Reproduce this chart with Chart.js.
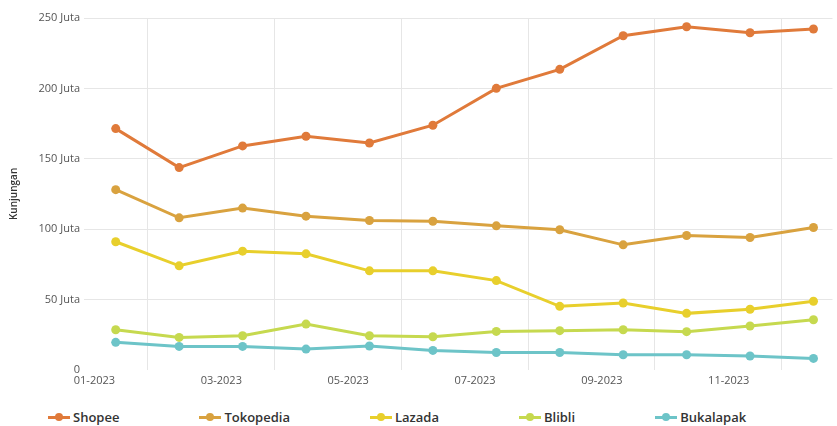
<!DOCTYPE html>
<html>
<head>
<meta charset="utf-8">
<script src="https://cdn.jsdelivr.net/npm/chart.js@4.4.1/dist/chart.umd.min.js"></script>
<style>
  html, body { margin: 0; padding: 0; background: #fff; }
  #wrap { position: relative; width: 837px; height: 426px; overflow: hidden; }
  #chart-box { width: 837px; height: 400px; }
  #legend {
    position: absolute; left: 48px; top: 408px;
    display: flex; gap: 80px;
    font: 600 13px "Open Sans", sans-serif; color: #333; line-height: 18px;
  }
  .item { display: flex; align-items: center; }
  .icon { position: relative; width: 22px; height: 3px; margin-right: 3px; }
  .icon span { position: absolute; left: 7px; top: -2.5px; width: 8px; height: 8px; border-radius: 50%; }
</style>
</head>
<body>
<div id="wrap">
  <div id="chart-box"><canvas id="myChart"></canvas></div>
  <div id="legend"></div>
</div>
<script>
const months = ["01-2023", "02-2023", "03-2023", "04-2023", "05-2023", "06-2023",
  "07-2023", "08-2023", "09-2023", "10-2023", "11-2023", "12-2023"];
const xTickLabels = ["01-2023", "03-2023", "05-2023", "07-2023", "09-2023", "11-2023"];
const seriesNames = ["Shopee", "Tokopedia", "Lazada", "Blibli", "Bukalapak"];
const seriesColors = ["#e07a3a", "#d9a23f", "#e8cf2c", "#c6d94f", "#6dc4c8"];

// visits, in millions (Juta)
const shopee = [171.4, 143.7, 159.1, 166, 161.2, 173.8, 200, 213.5, 237.4, 243.8, 239.5, 242.2];
const tokopedia = [128, 108, 114.9, 109.2, 106.1, 105.6, 102.3, 99.5, 88.8, 95.4, 94, 101.1];
const lazada = [91, 73.9, 84.3, 82.4, 70.3, 70.3, 63.4, 45.1, 47.5, 40.1, 43, 48.7];
const blibli = [28.5, 23, 24.2, 32.5, 24.2, 23.5, 27.3, 27.8, 28.5, 27.1, 31.1, 35.6];
const bukalapak = [19.5, 16.6, 16.6, 14.7, 16.9, 13.8, 12.3, 12.3, 10.7, 10.7, 9.8, 8.1];

const allSeries = [shopee, tokopedia, lazada, blibli, bukalapak];

const datasets = allSeries.map((arr, idx) => ({
  label: seriesNames[idx],
  data: arr.map((v, i) => ({ x: i, y: v })),
  borderColor: seriesColors[idx],
  backgroundColor: seriesColors[idx],
  borderWidth: 3,
  pointRadius: 4.5,
  pointBorderWidth: 0,
  tension: 0,
}));

const tickFont = { family: "'Open Sans', sans-serif", size: 11 };

const chart = new Chart(document.getElementById("myChart"), {
  type: "line",
  data: { datasets },
  options: {
    responsive: true,
    maintainAspectRatio: false,
    animation: false,
    layout: { padding: { top: 18, right: 0, bottom: 9, left: 0 } },
    plugins: {
      legend: { display: false },
      tooltip: { enabled: false },
    },
    scales: {
      x: {
        type: "linear",
        min: -0.5,
        max: 11.3,
        afterBuildTicks: (scale) => {
          scale.ticks = xTickLabels.map((t, i) => ({ value: i * 2 + 0.5 }));
        },
        ticks: {
          callback: (value) => xTickLabels[Math.round((value - 0.5) / 2)],
          labelOffset: -53,
          padding: 4,
          maxRotation: 0,
          autoSkip: false,
          color: "#555",
          font: tickFont,
        },
        grid: { color: "#e6e6e6", drawTicks: false },
        border: { display: false },
      },
      y: {
        min: 0,
        max: 250,
        afterFit: (scale) => { scale.width = 84; },
        ticks: {
          stepSize: 50,
          padding: 4,
          color: "#555",
          font: tickFont,
          callback: (value) => (value === 0 ? "0" : `${value} Juta`),
        },
        grid: {
          drawTicks: false,
          color: (ctx) => (ctx.tick && ctx.tick.value === 0 ? "rgba(0,0,0,0)" : "#e6e6e6"),
        },
        border: { display: false },
        title: {
          display: true,
          text: "Kunjungan",
          color: "#333",
          font: { family: "'Open Sans', sans-serif", size: 10, weight: "600" },
          padding: { top: 8, bottom: 0 },
        },
      },
    },
  },
});

// html legend built from chart datasets
const legendBox = document.getElementById("legend");
chart.data.datasets.forEach((ds) => {
  const item = document.createElement("div");
  item.className = "item";
  item.innerHTML = `<div class="icon" style="background:${ds.borderColor}"><span style="background:${ds.borderColor}"></span></div>${ds.label}`;
  legendBox.appendChild(item);
});
</script>
</body>
</html>
